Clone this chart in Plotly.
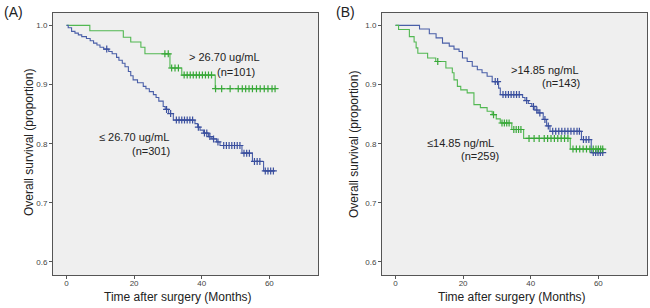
import numpy as np
import plotly.graph_objects as go

# ---------------- Data ----------------
# Panel A, > 26.70 ug/mL (n=101)
a_hi_t = [0, 6.9, 16.8, 19.0, 22.0, 23.2, 30.6, 34.1, 44.0, 61.7]
a_hi_s = [1.0, 0.991, 0.980, 0.972, 0.963, 0.952, 0.928, 0.916, 0.893, 0.893]
a_hi_c = [29.1, 30.1, 31.1, 32.1, 33.1, 34.8, 35.7, 36.6, 37.5, 38.4, 39.3, 40.2,
          41.1, 42.0, 42.9, 44.1, 45.9, 48.4, 50.8, 52.0, 53.0, 54.0, 55.0, 56.2,
          57.3, 58.5, 59.6, 60.8, 61.7]

# Panel A, <= 26.70 ug/mL (n=301)
a_lo_t = [0, 0.5, 1.5, 2.5, 3.5, 4.5, 5.9, 7.0, 8.0, 9.0, 9.9, 11.0, 12.5, 13.5,
          14.8, 15.5, 16.5, 17.3, 18.3, 19.0, 19.7, 21.0, 22.7, 23.5, 24.5, 25.7,
          26.5, 27.3, 28.6, 29.2, 30.2, 31.6, 38.0, 38.8, 39.5, 40.5, 42.0, 43.0,
          44.4, 45.4, 51.9, 55.0, 58.3, 61.7]
a_lo_s = [1.0, 0.996, 0.990, 0.987, 0.984, 0.981, 0.978, 0.974, 0.970, 0.967,
          0.963, 0.960, 0.956, 0.952, 0.946, 0.941, 0.936, 0.930, 0.922, 0.915,
          0.908, 0.903, 0.897, 0.893, 0.888, 0.883, 0.878, 0.872, 0.863, 0.858,
          0.851, 0.840, 0.834, 0.828, 0.823, 0.818, 0.812, 0.808, 0.803, 0.797,
          0.784, 0.770, 0.754, 0.754]
a_lo_c = [11.9, 29.6, 30.8, 32.5, 33.3, 34.1, 34.9, 35.7, 36.5, 37.3, 39.0, 40.8,
          41.5, 42.4, 43.5, 44.8, 46.5, 47.3, 48.1, 48.9, 49.7, 50.5, 51.3, 52.5,
          53.3, 54.1, 55.6, 56.4, 57.2, 58.8, 59.6, 60.4, 61.2]

# Panel B, > 14.85 ng/mL (n=143)
b_hi_t = [0, 7.1, 10.0, 12.0, 13.9, 15.9, 17.3, 18.8, 19.8, 21.2, 22.7, 24.2, 25.6,
          27.1, 28.6, 30.5, 31.0, 37.6, 38.3, 39.3, 40.3, 41.2, 42.2, 43.7, 44.7,
          45.7, 55.0, 57.9, 61.3]
b_hi_s = [1.0, 0.994, 0.986, 0.979, 0.970, 0.965, 0.960, 0.956, 0.945, 0.939,
          0.931, 0.925, 0.920, 0.914, 0.905, 0.894, 0.883, 0.878, 0.873, 0.868,
          0.863, 0.857, 0.852, 0.841, 0.830, 0.821, 0.807, 0.785, 0.785]
b_hi_c = [29.5, 30.2, 31.8, 32.6, 33.4, 34.2, 35.0, 35.8, 36.6, 38.8, 40.8, 41.8,
          42.7, 44.2, 45.2, 46.5, 47.4, 48.3, 49.2, 50.1, 51.0, 51.9, 52.8, 53.7,
          54.4, 55.6, 56.4, 57.2, 58.5, 59.2, 59.9, 60.6, 61.3]

# Panel B, <= 14.85 ng/mL (n=259)
b_lo_t = [0, 0.9, 4.1, 5.5, 6.1, 6.6, 9.5, 11.9, 14.9, 16.8, 17.3, 18.3, 19.3,
          21.2, 23.2, 25.1, 27.1, 28.6, 29.8, 31.0, 34.4, 37.9, 51.7, 61.3]
b_lo_s = [1.0, 0.993, 0.981, 0.972, 0.962, 0.953, 0.945, 0.939, 0.928, 0.920,
          0.908, 0.897, 0.891, 0.886, 0.866, 0.861, 0.855, 0.849, 0.842, 0.835,
          0.824, 0.809, 0.791, 0.791]
b_lo_c = [12.5, 29.0, 31.5, 32.2, 32.9, 33.6, 35.0, 35.7, 36.4, 37.1, 39.5, 41.0,
          42.5, 44.0, 45.0, 46.0, 47.0, 48.0, 49.0, 50.0, 51.0, 52.5, 53.5, 54.5,
          55.5, 56.5, 57.5, 58.5, 59.3, 60.0, 60.7, 61.3]

x_ticks = [0, 20, 40, 60]
y_ticks = [0.6, 0.7, 0.8, 0.9, 1.0]

GREEN = "#52b852"
GREEN_M = "#38a838"
BLUE = "#4a5fa8"
BLUE_M = "#3a4f9e"


def surv_at(times, survs, ct):
    times = np.asarray(times)
    survs = np.asarray(survs)
    idx = np.searchsorted(times, np.asarray(ct), side="right") - 1
    return survs[idx]


fig = go.Figure()


def add_curve(t, s, c, color, mcolor, xa, ya):
    fig.add_trace(go.Scatter(x=t, y=s, mode="lines", line=dict(color=color, width=1.1, shape="hv"),
                             xaxis=xa, yaxis=ya, showlegend=False, hoverinfo="skip"))
    fig.add_trace(go.Scatter(x=c, y=surv_at(t, s, c), mode="markers",
                             marker=dict(symbol="cross-thin", size=5, line=dict(color=mcolor, width=1.2)),
                             xaxis=xa, yaxis=ya, showlegend=False, hoverinfo="skip"))


add_curve(a_hi_t, a_hi_s, a_hi_c, GREEN, GREEN_M, "x", "y")
add_curve(a_lo_t, a_lo_s, a_lo_c, BLUE, BLUE_M, "x", "y")
add_curve(b_hi_t, b_hi_s, b_hi_c, BLUE, BLUE_M, "x2", "y2")
add_curve(b_lo_t, b_lo_s, b_lo_c, GREEN, GREEN_M, "x2", "y2")

W, H = 650, 308
TOP, BOT = 13, 275  # plot area top/bottom in pixels
xr = [-4.0, 74.4]
yr = [0.578, 1.021]


def py(ypx):
    return (BOT - ypx) / (BOT - TOP)


axis_common = dict(showline=True, linecolor="#555555", linewidth=1, mirror=True,
                   ticks="outside", ticklen=3, tickcolor="#555555", tickwidth=1,
                   showgrid=False, zeroline=False,
                   tickfont=dict(family="Liberation Sans, Arial", size=8, color="#444444"))

fig.update_layout(
    width=W, height=H,
    margin=dict(l=0, r=0, t=TOP, b=H - BOT),
    paper_bgcolor="white", plot_bgcolor="#efefef",
    xaxis=dict(domain=[53 / W, 318 / W], range=xr, tickvals=x_ticks, anchor="y",
               ticklabelstandoff=-3, **axis_common),
    yaxis=dict(domain=[0, 1], range=yr, tickvals=y_ticks, tickformat=".1f", anchor="x", **axis_common),
    xaxis2=dict(domain=[382 / W, 647 / W], range=xr, tickvals=x_ticks, anchor="y2",
                ticklabelstandoff=-3, **axis_common),
    yaxis2=dict(domain=[0, 1], range=yr, tickvals=y_ticks, tickformat=".1f", anchor="x2", **axis_common),
    font=dict(family="Liberation Sans, Arial", color="#222222"),
)

ann = []
FT = dict(family="Liberation Sans, Arial", size=11, color="#222222")
# Panel A curve labels
ann += [dict(x=46.6, y=0.947, xref="x", yref="y", text="> 26.70 ug/mL", showarrow=False, font=FT),
        dict(x=50.2, y=0.922, xref="x", yref="y", text="(n=101)", showarrow=False, font=FT),
        dict(x=20.0, y=0.811, xref="x", yref="y", text="≤ 26.70 ug/mL", showarrow=False, font=FT),
        dict(x=25.0, y=0.787, xref="x", yref="y", text="(n=301)", showarrow=False, font=FT)]
# Panel B curve labels
ann += [dict(x=44.2, y=0.925, xref="x2", yref="y2", text=">14.85 ng/mL", showarrow=False, font=FT),
        dict(x=49.1, y=0.903, xref="x2", yref="y2", text="(n=143)", showarrow=False, font=FT),
        dict(x=19.3, y=0.8015, xref="x2", yref="y2", text="≤14.85 ng/mL", showarrow=False, font=FT),
        dict(x=24.9, y=0.779, xref="x2", yref="y2", text="(n=259)", showarrow=False, font=FT)]
for a in ann:
    a["xanchor"] = "center"
    a["yanchor"] = "middle"

TF = dict(family="Liberation Sans, Arial", size=12, color="#222222")
# Axis titles
ann += [dict(x=178 / W, y=py(297), xref="paper", yref="paper", xanchor="center", yanchor="middle",
             text="Time after surgery (Months)", showarrow=False, font=TF),
        dict(x=512 / W, y=py(297), xref="paper", yref="paper", xanchor="center", yanchor="middle",
             text="Time after surgery (Months)", showarrow=False, font=TF),
        dict(x=29 / W, y=py(143), xref="paper", yref="paper", xanchor="center", yanchor="middle",
             textangle=-90, text="Overall survival (proportion)", showarrow=False, font=TF),
        dict(x=354 / W, y=py(145), xref="paper", yref="paper", xanchor="center", yanchor="middle",
             textangle=-90, text="Overall survival (proportion)", showarrow=False, font=TF)]
# Panel letters
PF = dict(family="Liberation Sans, Arial", size=14, color="#222222")
ann += [dict(x=13 / W, y=py(12), xref="paper", yref="paper", xanchor="center", yanchor="middle",
             text="(A)", showarrow=False, font=PF),
        dict(x=345 / W, y=py(12), xref="paper", yref="paper", xanchor="center", yanchor="middle",
             text="(B)", showarrow=False, font=PF)]

fig.update_layout(annotations=ann)
fig.write_html("out.html", config={"displayModeBar": False},
               post_script="document.body.style.margin='0';document.body.style.overflow='hidden';")
